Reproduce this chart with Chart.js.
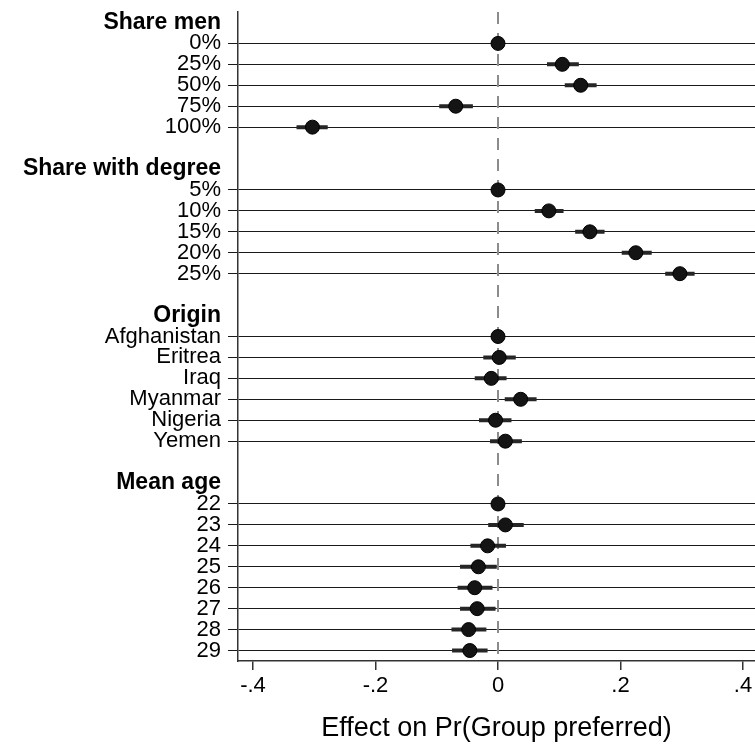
<!DOCTYPE html>
<html>
<head>
<meta charset="utf-8">
<script src="https://cdn.jsdelivr.net/npm/chart.js@4.4.0/dist/chart.umd.min.js"></script>
<style>
  html, body { margin: 0; padding: 0; background: #fff; overflow: hidden; }
</style>
</head>
<body>
<canvas id="coefChart" width="755" height="745"></canvas>
<script>
// Group headers and their categories
const groupNames = ['Share men', 'Share with degree', 'Origin', 'Mean age'];

const shareMenCats = ['0%', '25%', '50%', '75%', '100%'];
const shareMenEst  = [0, 0.105, 0.135, -0.069, -0.303];
const shareMenLo   = [0, 0.080, 0.109, -0.096, -0.329];
const shareMenHi   = [0, 0.132, 0.161, -0.041, -0.278];

const degreeCats = ['5%', '10%', '15%', '20%', '25%'];
const degreeEst  = [0, 0.083, 0.150, 0.225, 0.297];
const degreeLo   = [0, 0.060, 0.126, 0.202, 0.273];
const degreeHi   = [0, 0.107, 0.174, 0.251, 0.321];

const originCats = ['Afghanistan', 'Eritrea', 'Iraq', 'Myanmar', 'Nigeria', 'Yemen'];
const originEst  = [0, 0.002, -0.011, 0.037, -0.004, 0.012];
const originLo   = [0, -0.024, -0.038, 0.011, -0.031, -0.013];
const originHi   = [0, 0.029, 0.014, 0.063, 0.022, 0.039];

const ageCats = ['22', '23', '24', '25', '26', '27', '28', '29'];
const ageEst  = [0, 0.012, -0.017, -0.032, -0.038, -0.034, -0.048, -0.046];
const ageLo   = [0, -0.016, -0.045, -0.062, -0.066, -0.062, -0.076, -0.075];
const ageHi   = [0, 0.042, 0.013, -0.002, -0.009, -0.004, -0.019, -0.017];

const xTicks = [-0.4, -0.2, 0, 0.2, 0.4];

// build the rows: header, categories, blank spacer
const groups = [
    { cats: shareMenCats, est: shareMenEst, lo: shareMenLo, hi: shareMenHi },
    { cats: degreeCats, est: degreeEst, lo: degreeLo, hi: degreeHi },
    { cats: originCats, est: originEst, lo: originLo, hi: originHi },
    { cats: ageCats, est: ageEst, lo: ageLo, hi: ageHi }
];

const rowLabels = [];
const rowType = [];   // 'head', 'data', 'blank'
const dots = [];
const ciSegs = [];

groups.forEach((g, gi) => {
    rowLabels.push(groupNames[gi]);
    rowType.push('head');
    g.cats.forEach((c, i) => {
        const row = rowLabels.length;
        rowLabels.push(c);
        rowType.push('data');
        dots.push({ x: g.est[i], y: row });
        if (g.hi[i] !== g.lo[i]) {
            ciSegs.push({ x: g.lo[i], y: row }, { x: g.hi[i], y: row }, { x: null, y: null });
        }
    });
    if (gi < groups.length - 1) {
        rowLabels.push('');
        rowType.push('blank');
    }
});

const nRows = rowLabels.length;

function fmtX(v) {
    if (Math.abs(v) < 1e-9) return '0';
    return (v < 0 ? '-' : '') + Math.abs(v).toFixed(1).replace(/^0/, '');
}

Chart.defaults.font.family = "'Liberation Sans', Arial, Helvetica, sans-serif";
Chart.defaults.color = '#000';

const ctx = document.getElementById('coefChart').getContext('2d');
new Chart(ctx, {
    type: 'scatter',
    data: {
        datasets: [
            {
                label: 'Estimate',
                data: dots,
                pointRadius: 7,
                pointBackgroundColor: '#141414',
                pointBorderColor: '#000',
                pointBorderWidth: 1
            },
            {
                label: 'CI',
                type: 'line',
                data: ciSegs,
                showLine: true,
                spanGaps: false,
                borderColor: '#262626',
                borderWidth: 4,
                borderCapStyle: 'butt',
                pointRadius: 0
            },
            {
                label: 'Zero',
                type: 'line',
                data: [{ x: 0, y: -0.5 }, { x: 0, y: nRows - 0.5 }],
                showLine: true,
                borderColor: '#8c8c8c',
                borderWidth: 2,
                borderDash: [12, 9],
                pointRadius: 0
            }
        ]
    },
    options: {
        responsive: false,
        animation: false,
        events: [],
        layout: { autoPadding: false, padding: { left: 0, right: 0, top: 12, bottom: 0 } },
        plugins: {
            legend: { display: false },
            tooltip: { enabled: false }
        },
        scales: {
            x: {
                type: 'linear',
                min: -0.4245,
                max: 0.4196,
                afterBuildTicks: scale => { scale.ticks = xTicks.map(v => ({ value: v })); },
                afterFit: scale => {
                    scale.height = 84;
                    scale.paddingLeft = 0;
                    scale.paddingRight = 0;
                },
                ticks: {
                    callback: v => fmtX(v),
                    font: { size: 22 },
                    padding: 3,
                    maxRotation: 0
                },
                grid: {
                    drawOnChartArea: false,
                    drawTicks: true,
                    tickLength: 9,
                    color: '#333',
                    lineWidth: 1.5
                },
                border: { display: true, color: '#333', width: 1.5 },
                title: {
                    display: true,
                    text: 'Effect on Pr(Group preferred)',
                    font: { size: 27 },
                    padding: { top: 0, bottom: 0 }
                }
            },
            y: {
                type: 'linear',
                reverse: true,
                min: -0.5,
                max: nRows - 0.5,
                afterBuildTicks: scale => { scale.ticks = rowLabels.map((l, i) => ({ value: i })); },
                afterFit: scale => {
                    scale.width = 238;
                    scale.paddingTop = 0;
                    scale.paddingBottom = 0;
                },
                ticks: {
                    autoSkip: false,
                    callback: v => rowLabels[v],
                    font: c => {
                        const head = rowType[c.tick ? c.tick.value : c.index] === 'head';
                        return { size: head ? 23 : 22, weight: head ? 'bold' : 'normal' };
                    },
                    padding: 7
                },
                grid: {
                    color: c => rowType[c.tick ? c.tick.value : c.index] === 'data' ? '#1a1a1a' : 'rgba(0,0,0,0)',
                    lineWidth: 1,
                    tickLength: 10
                },
                border: { display: true, color: '#333', width: 1.5 }
            }
        }
    }
});
</script>
</body>
</html>
